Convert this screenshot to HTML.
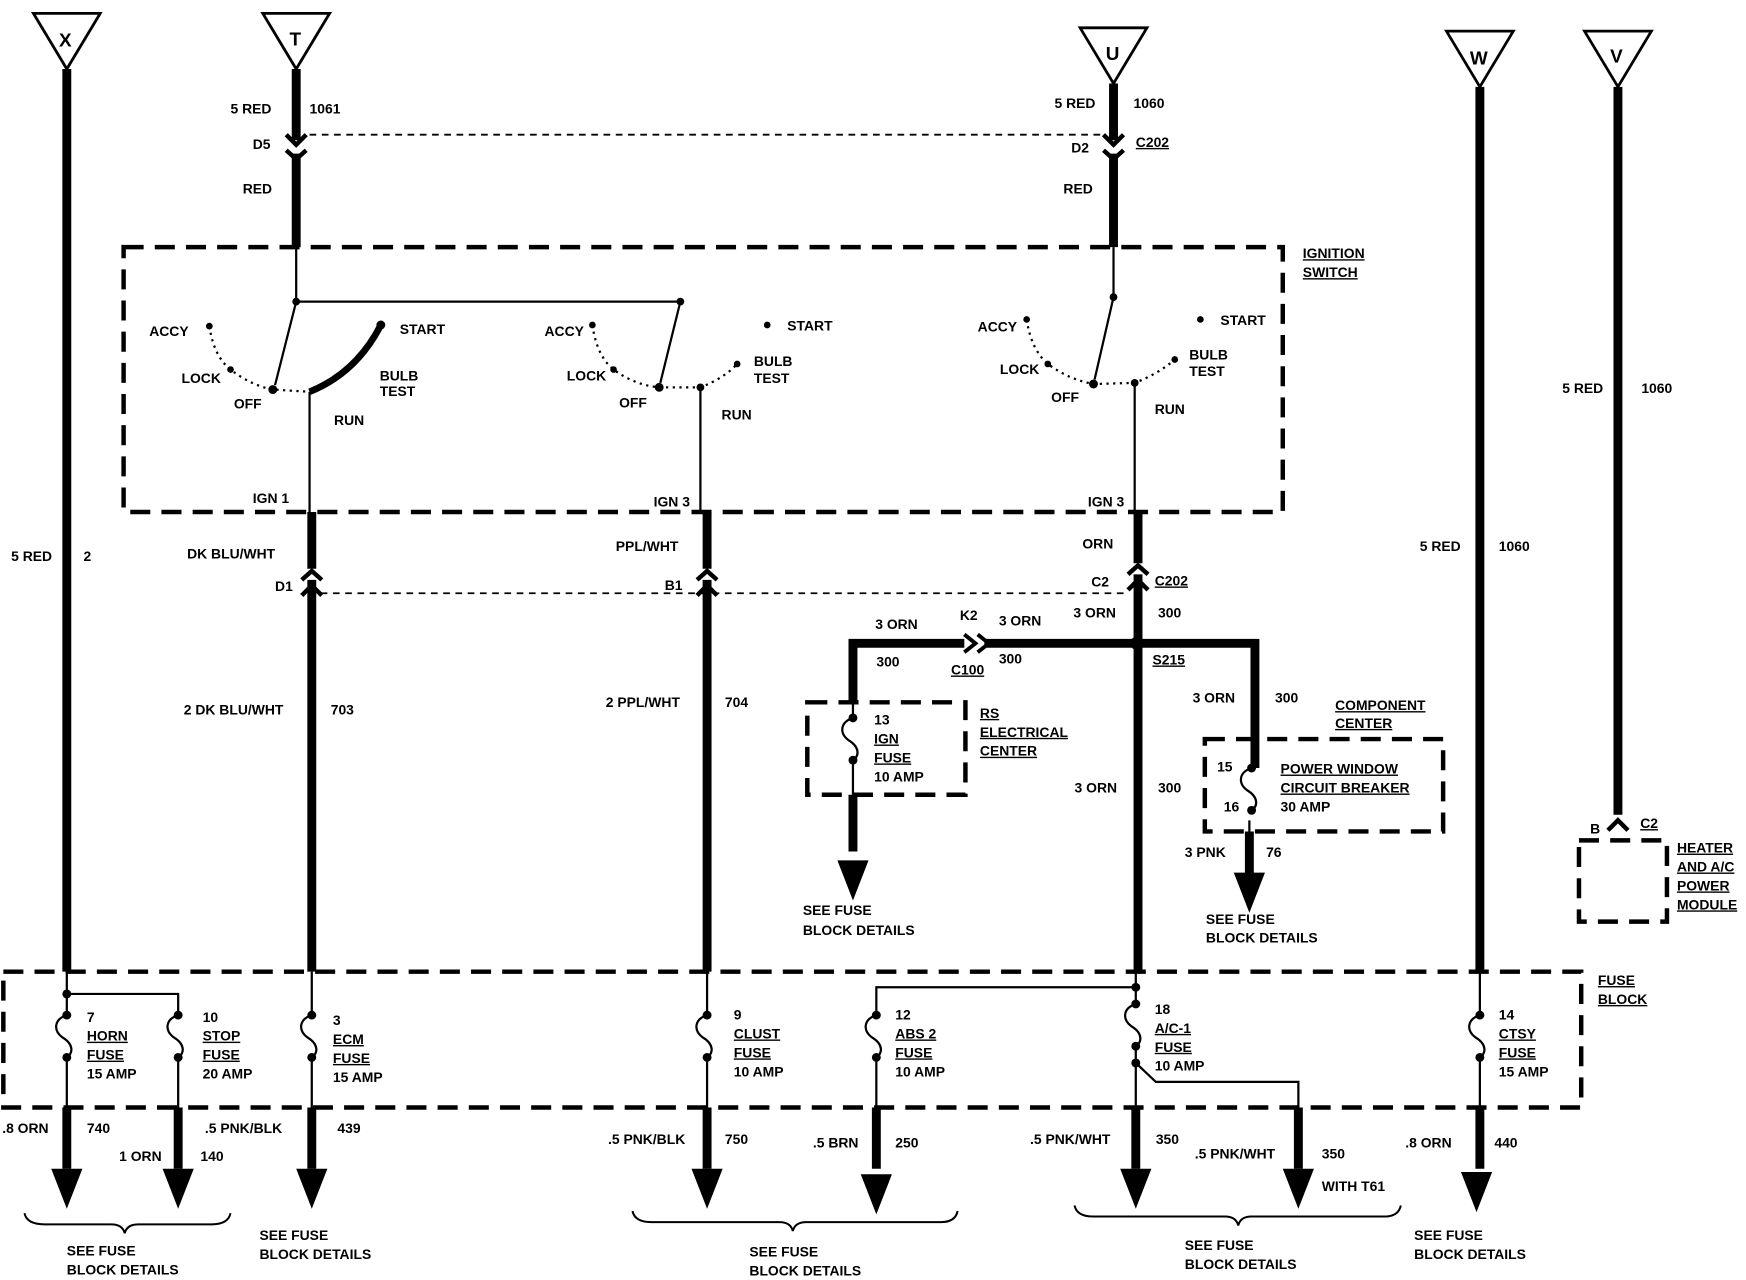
<!DOCTYPE html>
<html><head><meta charset="utf-8"><style>
html,body{margin:0;padding:0;background:#fff;width:1746px;height:1280px;overflow:hidden}
svg{display:block}
text{font-family:"Liberation Sans",sans-serif;font-weight:bold;font-size:12.5px;fill:#000}
.u{text-decoration:underline}
</style></head><body>
<svg width="1746" height="1280" viewBox="0 0 1568 1150" preserveAspectRatio="none" xmlns="http://www.w3.org/2000/svg">
<defs>
<g id="ar"><path d="M-14 0 L14 0 L0 36Z" fill="#000"/></g>
<g id="fu"><path d="M0 0 C-12 4,-12 14,-4 20 C6 26,6 34,0 38" fill="none" stroke="#000" stroke-width="2"/><circle cx="0" cy="0" r="4"/><circle cx="0" cy="38" r="4"/></g>
<g id="cd"><path d="M-9 -11 L0 -2 L9 -11 M-9 3 L0 11 L9 3" fill="none" stroke="#000" stroke-width="4"/></g>
<g id="cu"><path d="M-9 11 L0 2 L9 11 M-9 -3 L0 -11 L9 -3" fill="none" stroke="#000" stroke-width="4"/></g>
</defs>
<g fill="none" stroke="#000">
<path d="M30 12 H90 L60 62Z M236 12 H296 L266 62Z M970 25 H1030 L1000 75Z M1299 28 H1359 L1329 78Z M1423 28 H1483 L1453 78Z" stroke-width="2.5"/>
<g stroke-width="4" stroke-dasharray="18 10">
<rect x="111" y="222" width="1041" height="238"/>
<rect x="3" y="873" width="1417" height="122"/>
<rect x="725" y="631" width="142" height="83"/>
<rect x="1082" y="664" width="214" height="83"/>
<rect x="1418" y="755" width="79" height="73"/>
</g>
<g stroke-width="1.6" stroke-dasharray="6 5">
<path d="M278 121 H990 M288 533 H1010"/>
</g>
<g stroke-width="8">
<path d="M60 62 V873 M60 995 V1050 M160 995 V1050 M280 995 V1050 M635 995 V1050 M787 995 V1050 M1020 995 V1050 M1166 995 V1050 M1329 995 V1050"/>
<path d="M266 62 V126 M266 138 V222 M1000 75 V126 M1000 138 V222"/>
<path d="M280 460 V511 M280 521 V873 M635 460 V511 M635 521 V873 M1022 460 V506 M1022 516 V873"/>
<path d="M766 630 V578 H866 M884 578 H1127 V690 M766 714 V765 M1122 747 V790"/>
<path d="M1329 78 V873 M1453 78 V732"/>
</g>
<g stroke-width="2">
<path d="M266 222 V271 H611 M1000 222 V267"/>
<path d="M266 271 L247 346 M611 271 L593 344 M1000 267 L983 341"/>
<path d="M278 352 V460 M629 348 V460 M1019 344 V460"/>
<path d="M60 873 V893 H160 V912 M60 893 V912 M60 950 V995 M160 950 V995"/>
<path d="M280 873 V912 M280 950 V995 M635 873 V912 M635 950 V995 M1020 873 V902 M1020 940 V995 M1329 873 V912 M1329 950 V995"/>
<path d="M1020 887 H787 V912 M787 950 V995 M1020 955 L1038 972 H1166 V995"/>
<path d="M766 630 V645 M766 683 V714 M1127 690 V680 M1122 737 V747"/>
</g>
<path d="M278 352 Q320 335 342 292" stroke-width="6"/>
<g stroke-width="2" stroke-dasharray="2 4">
<path d="M188 293 Q192 320 207 332 Q225 346 245 350 L278 352"/>
<path d="M532 292 Q536 320 551 332 Q570 346 592 348 L629 348 Q650 340 662 327"/>
<path d="M922 287 Q926 314 941 327 Q960 341 982 345 L1019 344 Q1040 336 1055 323"/>
</g>
<g stroke-width="1.8">
<path d="M22 1090 Q24 1100 40 1100 H100 Q110 1100 112 1108 Q114 1100 124 1100 H190 Q205 1100 207 1090"/>
<path d="M568 1088 Q570 1098 585 1098 H700 Q710 1098 712 1106 Q714 1098 724 1098 H845 Q858 1098 860 1088"/>
<path d="M965 1083 Q967 1093 982 1093 H1100 Q1110 1093 1112 1101 Q1114 1093 1124 1093 H1243 Q1256 1093 1258 1083"/>
</g>
<path d="M1444 746 L1453 737 L1462 746" stroke-width="4"/>
</g>
<g fill="#000">
<circle cx="266" cy="271" r="3.5"/><circle cx="611" cy="271" r="3.5"/><circle cx="1000" cy="267" r="3.5"/>
<circle cx="188" cy="293" r="3"/><circle cx="207" cy="332" r="3"/><circle cx="245" cy="350" r="4"/><circle cx="342" cy="292" r="4"/>
<circle cx="532" cy="292" r="3"/><circle cx="551" cy="332" r="3"/><circle cx="592" cy="348" r="4"/><circle cx="629" cy="348" r="3.5"/><circle cx="662" cy="327" r="3"/><circle cx="689" cy="292" r="3"/>
<circle cx="922" cy="287" r="3"/><circle cx="941" cy="327" r="3"/><circle cx="982" cy="345" r="4"/><circle cx="1019" cy="344" r="3.5"/><circle cx="1055" cy="323" r="3"/><circle cx="1078" cy="287" r="3"/>
<circle cx="1021" cy="578" r="6"/><circle cx="60" cy="893" r="4"/><circle cx="1020" cy="887" r="4"/><circle cx="1020" cy="955" r="4"/>
</g>
<use href="#cd" x="266" y="132"/><use href="#cd" x="1000" y="132"/>
<use href="#cu" x="280" y="524"/><use href="#cu" x="635" y="524"/><use href="#cu" x="1022" y="519"/>
<path d="M866 570 L876 578 L866 586 M878 570 L888 578 L878 586" fill="none" stroke="#000" stroke-width="3.5"/>
<use href="#fu" x="60" y="912"/><use href="#fu" x="160" y="912"/><use href="#fu" x="280" y="912"/><use href="#fu" x="635" y="912"/>
<use href="#fu" x="787" y="912"/><use href="#fu" x="1020" y="902"/><use href="#fu" x="1329" y="912"/><use href="#fu" x="766" y="645"/><use href="#fu" x="1124" y="690"/>
<use href="#ar" x="60" y="1050"/><use href="#ar" x="160" y="1050"/><use href="#ar" x="280" y="1050"/><use href="#ar" x="635" y="1050"/>
<use href="#ar" x="787" y="1055"/><use href="#ar" x="1020" y="1050"/><use href="#ar" x="1166" y="1050"/><use href="#ar" x="1326" y="1053"/>
<use href="#ar" x="766" y="773"/><use href="#ar" x="1122" y="784"/>
<text x="53" y="42" style="font-size:17px">X</text><text x="260" y="41" style="font-size:17px">T</text><text x="993" y="54" style="font-size:17px">U</text><text x="1320" y="58" style="font-size:17px">W</text><text x="1446" y="56" style="font-size:17px">V</text>
<text x="207" y="102">5 RED</text><text x="278" y="102">1061</text><text x="227" y="134">D5</text><text x="218" y="174">RED</text>
<text x="947" y="97">5 RED</text><text x="1018" y="97">1060</text><text x="962" y="137">D2</text><text x="1020" y="132" class="u">C202</text><text x="955" y="174">RED</text>
<text x="1170" y="232" class="u">IGNITION</text><text x="1170" y="249" class="u">SWITCH</text>
<text x="134" y="302">ACCY</text><text x="163" y="344">LOCK</text><text x="210" y="367">OFF</text><text x="300" y="382">RUN</text><text x="341" y="342">BULB</text><text x="341" y="356">TEST</text><text x="359" y="300">START</text>
<text x="489" y="302">ACCY</text><text x="509" y="342">LOCK</text><text x="556" y="366">OFF</text><text x="648" y="377">RUN</text><text x="677" y="329">BULB</text><text x="677" y="344">TEST</text><text x="707" y="297">START</text>
<text x="878" y="298">ACCY</text><text x="898" y="336">LOCK</text><text x="944" y="361">OFF</text><text x="1037" y="372">RUN</text><text x="1068" y="323">BULB</text><text x="1068" y="338">TEST</text><text x="1096" y="292">START</text>
<text x="227" y="452">IGN 1</text><text x="587" y="455">IGN 3</text><text x="977" y="455">IGN 3</text>
<text x="168" y="502">DK BLU/WHT</text><text x="247" y="531">D1</text><text x="553" y="495">PPL/WHT</text><text x="597" y="530">B1</text>
<text x="972" y="493">ORN</text><text x="980" y="527">C2</text><text x="1037" y="526" class="u">C202</text><text x="964" y="555">3 ORN</text><text x="1040" y="555">300</text>
<text x="10" y="504">5 RED</text><text x="75" y="504">2</text>
<text x="165" y="642">2 DK BLU/WHT</text><text x="297" y="642">703</text><text x="544" y="635">2 PPL/WHT</text><text x="651" y="635">704</text>
<text x="786" y="565">3 ORN</text><text x="787" y="599">300</text><text x="862" y="557">K2</text><text x="897" y="562">3 ORN</text><text x="854" y="606" class="u">C100</text><text x="897" y="596">300</text>
<text x="1035" y="597" class="u">S215</text>
<text x="785" y="651">13</text><text x="785" y="668" class="u">IGN</text><text x="785" y="685" class="u">FUSE</text><text x="785" y="702">10 AMP</text>
<text x="880" y="645" class="u">RS</text><text x="880" y="662" class="u">ELECTRICAL</text><text x="880" y="679" class="u">CENTER</text>
<text x="721" y="822">SEE FUSE</text><text x="721" y="840">BLOCK DETAILS</text>
<text x="1071" y="631">3 ORN</text><text x="1145" y="631">300</text><text x="1199" y="638" class="u">COMPONENT</text><text x="1199" y="654" class="u">CENTER</text>
<text x="1093" y="693">15</text><text x="1099" y="729">16</text><text x="1150" y="695" class="u">POWER WINDOW</text><text x="1150" y="712" class="u">CIRCUIT BREAKER</text><text x="1150" y="729">30 AMP</text>
<text x="965" y="712">3 ORN</text><text x="1040" y="712">300</text>
<text x="1064" y="770">3 PNK</text><text x="1137" y="770">76</text><text x="1083" y="830">SEE FUSE</text><text x="1083" y="847">BLOCK DETAILS</text>
<text x="1275" y="495">5 RED</text><text x="1346" y="495">1060</text><text x="1403" y="353">5 RED</text><text x="1474" y="353">1060</text>
<text x="1428" y="749">B</text><text x="1473" y="744" class="u">C2</text>
<text x="1506" y="766" class="u">HEATER</text><text x="1506" y="783" class="u">AND A/C</text><text x="1506" y="800" class="u">POWER</text><text x="1506" y="817" class="u">MODULE</text>
<text x="1435" y="885" class="u">FUSE</text><text x="1435" y="902" class="u">BLOCK</text>
<text x="78" y="918">7</text><text x="78" y="935" class="u">HORN</text><text x="78" y="952" class="u">FUSE</text><text x="78" y="969">15 AMP</text>
<text x="182" y="918">10</text><text x="182" y="935" class="u">STOP</text><text x="182" y="952" class="u">FUSE</text><text x="182" y="969">20 AMP</text>
<text x="299" y="921">3</text><text x="299" y="938" class="u">ECM</text><text x="299" y="955" class="u">FUSE</text><text x="299" y="972">15 AMP</text>
<text x="659" y="916">9</text><text x="659" y="933" class="u">CLUST</text><text x="659" y="950" class="u">FUSE</text><text x="659" y="967">10 AMP</text>
<text x="804" y="916">12</text><text x="804" y="933" class="u">ABS 2</text><text x="804" y="950" class="u">FUSE</text><text x="804" y="967">10 AMP</text>
<text x="1037" y="911">18</text><text x="1037" y="928" class="u">A/C-1</text><text x="1037" y="945" class="u">FUSE</text><text x="1037" y="962">10 AMP</text>
<text x="1346" y="916">14</text><text x="1346" y="933" class="u">CTSY</text><text x="1346" y="950" class="u">FUSE</text><text x="1346" y="967">15 AMP</text>
<text x="2" y="1018">.8 ORN</text><text x="78" y="1018">740</text><text x="107" y="1043">1 ORN</text><text x="180" y="1043">140</text>
<text x="184" y="1018">.5 PNK/BLK</text><text x="303" y="1018">439</text>
<text x="546" y="1028">.5 PNK/BLK</text><text x="651" y="1028">750</text><text x="730" y="1031">.5 BRN</text><text x="804" y="1031">250</text>
<text x="925" y="1028">.5 PNK/WHT</text><text x="1038" y="1028">350</text><text x="1073" y="1041">.5 PNK/WHT</text><text x="1187" y="1041">350</text><text x="1187" y="1070">WITH T61</text>
<text x="1262" y="1031">.8 ORN</text><text x="1342" y="1031">440</text>
<text x="60" y="1128">SEE FUSE</text><text x="60" y="1145">BLOCK DETAILS</text>
<text x="233" y="1114">SEE FUSE</text><text x="233" y="1131">BLOCK DETAILS</text>
<text x="673" y="1129">SEE FUSE</text><text x="673" y="1146">BLOCK DETAILS</text>
<text x="1064" y="1123">SEE FUSE</text><text x="1064" y="1140">BLOCK DETAILS</text>
<text x="1270" y="1114">SEE FUSE</text><text x="1270" y="1131">BLOCK DETAILS</text>
</svg>
</body></html>
